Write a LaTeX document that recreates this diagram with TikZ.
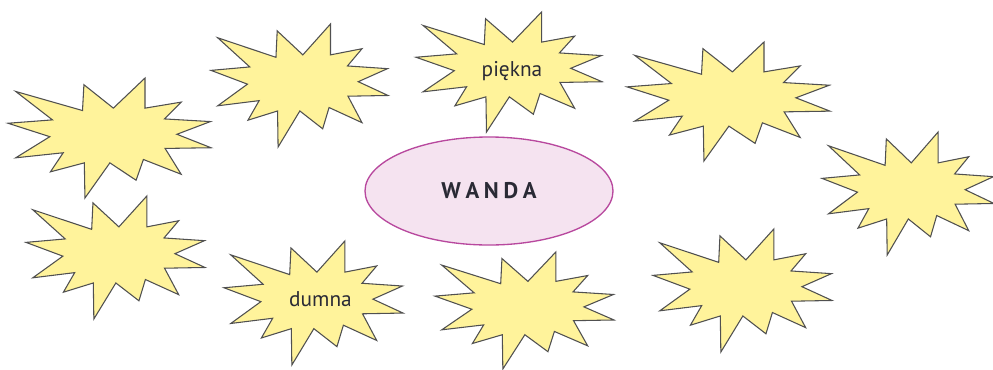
\documentclass[tikz,border=0pt]{standalone}
\usepackage{fontspec}
\usetikzlibrary{shapes.geometric}
\setmainfont{PT Sans}
\definecolor{starfill}{HTML}{FFF39B}
\definecolor{stardraw}{HTML}{505050}
\definecolor{elfill}{HTML}{F5E3F0}
\definecolor{eldraw}{HTML}{B8489E}
\definecolor{txt}{HTML}{2A2A35}
\newcommand{\burstshape}[4]{%
  \begin{scope}[shift={(#1,#2)},xscale=#3,yscale=#4]
    \filldraw[burst] (0,0.377) -- (0.219,0.349) -- (0.038,0.112) -- (0.367,0.271)
      -- (0.374,0.056) -- (0.519,0.251) -- (0.675,0) -- (0.675,0.251)
      -- (0.853,0.201) -- (0.771,0.341) -- (0.997,0.363) -- (0.832,0.469)
      -- (1,0.581) -- (0.774,0.587) -- (0.853,0.802) -- (0.667,0.679)
      -- (0.631,0.852) -- (0.502,0.707) -- (0.379,1) -- (0.376,0.707)
      -- (0.209,0.782) -- (0.272,0.623) -- (0.038,0.665) -- (0.206,0.489)
      -- cycle;
  \end{scope}}
\begin{document}
\begin{tikzpicture}[x=0.75pt,y=-0.75pt,
  burst/.style={fill=starfill,draw=stardraw,line width=0.8pt,line join=miter},
  word/.style={font=\fontsize{16}{18}\selectfont,text=txt,inner sep=0pt},
  centre/.style={ellipse,fill=elfill,draw=eldraw,line width=1pt,
    minimum width=186pt,minimum height=81pt,inner sep=0pt,
    font=\fontsize{17}{20}\selectfont\bfseries,text=txt}]
\useasboundingbox (0,0) rectangle (993,369);
\fill[white] (0,0) rectangle (993,369);
\burstshape{8}{78}{203}{120}
\burstshape{211}{24}{177}{123}
\burstshape{416}{12}{186}{120}
\burstshape{627}{42}{203}{119}
\burstshape{822}{132}{172}{123}
\burstshape{26}{196}{179}{123}
\burstshape{224}{241}{179}{124}
\burstshape{435}{252}{179}{117}
\burstshape{653}{229}{179}{123}
\node[centre] (wanda) at (489,191) {W\hspace{3.5pt}A\hspace{3.5pt}N\hspace{3.5pt}D\hspace{3.5pt}A};
\node[word] (piekna) at (512,71) {piękna};
\node[word] (dumna) at (320.5,299) {dumna};
\end{tikzpicture}
\end{document}
